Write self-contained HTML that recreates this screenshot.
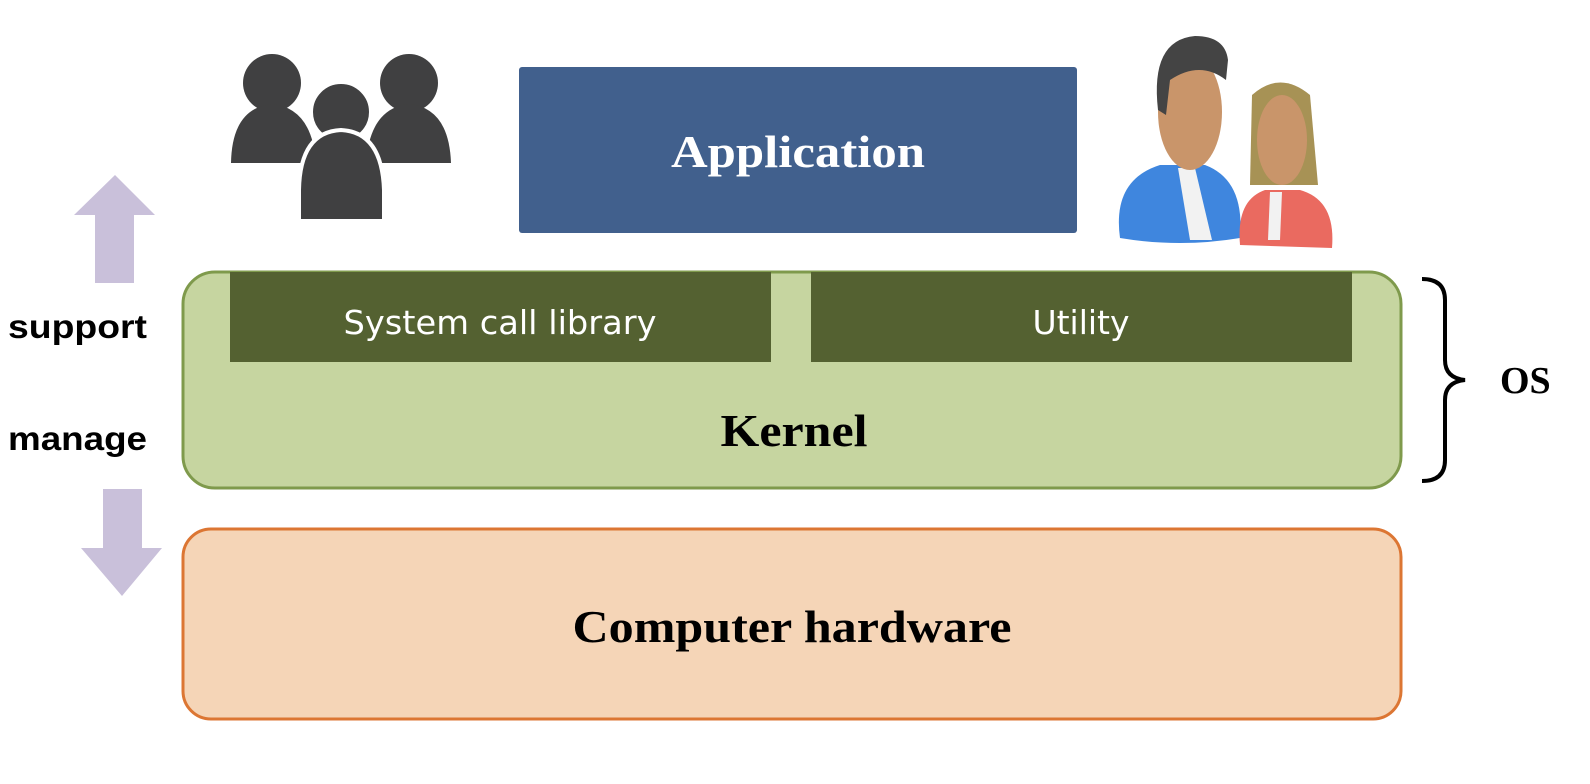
<!DOCTYPE html>
<html><head><meta charset="utf-8"><style>
html,body{margin:0;padding:0;background:#fff;}
svg{display:block;}
</style></head><body>
<svg width="1590" height="784" viewBox="0 0 1590 784" xmlns="http://www.w3.org/2000/svg">
<!-- left users icon -->
<g fill="#404041">
<circle cx="272" cy="83" r="29"/>
<path d="M231 163 Q232 108 272 104 Q312 108 316 163 Z"/>
<circle cx="409" cy="83" r="29"/>
<path d="M366 163 Q370 108 409 104 Q449 108 451 163 Z"/>
<circle cx="341" cy="112" r="30" stroke="#fff" stroke-width="4"/>
<path d="M299 190 Q300 132 341 130 Q382 132 384 190 L384 221 L299 221 Z" stroke="#fff" stroke-width="4"/>
</g>
<!-- application -->
<rect x="519" y="67" width="558" height="166" rx="3" fill="#41608d"/>
<text x="798" y="167" text-anchor="middle" font-family="Liberation Serif, serif" font-weight="bold" font-size="46" textLength="254" lengthAdjust="spacingAndGlyphs" fill="#fff">Application</text>
<!-- right people icon -->
<g>
<path d="M1120 238 Q1112 180 1160 165 L1205 165 Q1245 180 1240 238 Q1180 248 1120 238 Z" fill="#3f86de"/>
<path d="M1178 168 L1195 168 L1212 240 L1190 240 Z" fill="#f2f2f2"/>
<ellipse cx="1190" cy="112" rx="32" ry="58" fill="#c9956a"/>
<path d="M1158 110 Q1150 40 1195 36 Q1225 36 1228 60 L1226 80 Q1200 60 1170 80 L1166 115 Z" fill="#444"/>
<path d="M1240 245 Q1236 200 1265 190 L1300 190 Q1336 200 1332 248 Z" fill="#ea6a60"/>
<path d="M1252 95 Q1280 70 1310 95 L1318 185 L1250 185 Z" fill="#a79255"/>
<ellipse cx="1282" cy="140" rx="25" ry="45" fill="#c9956a"/>
<path d="M1270 192 L1282 192 L1280 240 L1268 240 Z" fill="#f2f2f2"/>
</g>
<!-- arrows -->
<polygon points="115,175 155,215 134,215 134,283 95,283 95,215 74,215" fill="#c9c0da"/>
<polygon points="103,489 142,489 142,548 162,548 122,596 81,548 103,548" fill="#c9c0da"/>
<text x="8" y="338" font-family="Liberation Sans, sans-serif" font-weight="bold" font-size="33" textLength="139" lengthAdjust="spacingAndGlyphs" fill="#000">support</text>
<text x="8" y="450" font-family="Liberation Sans, sans-serif" font-weight="bold" font-size="33" textLength="139" lengthAdjust="spacingAndGlyphs" fill="#000">manage</text>
<!-- kernel box -->
<rect x="183" y="272" width="1218" height="216" rx="32" fill="#c6d5a0" stroke="#7f9a4c" stroke-width="3"/>
<rect x="230" y="272" width="541" height="90" fill="#546131"/>
<rect x="811" y="272" width="541" height="90" fill="#546131"/>
<text x="500" y="334" text-anchor="middle" font-family="DejaVu Sans, sans-serif" font-size="33" textLength="313" lengthAdjust="spacingAndGlyphs" fill="#fff">System call library</text>
<text x="1081" y="334" text-anchor="middle" font-family="DejaVu Sans, sans-serif" font-size="33" fill="#fff">Utility</text>
<text x="794" y="446" text-anchor="middle" font-family="Liberation Serif, serif" font-weight="bold" font-size="46" textLength="147" lengthAdjust="spacingAndGlyphs" fill="#000">Kernel</text>
<!-- hardware -->
<rect x="183" y="529" width="1218" height="190" rx="28" fill="#f5d5b7" stroke="#dc7633" stroke-width="3"/>
<text x="792" y="642" text-anchor="middle" font-family="Liberation Serif, serif" font-weight="bold" font-size="46" textLength="439" lengthAdjust="spacingAndGlyphs" fill="#000">Computer hardware</text>
<!-- brace -->
<path d="M1422 279 Q1445 279 1445 300 L1445 360 Q1445 378 1465 380 Q1445 382 1445 400 L1445 460 Q1445 481 1422 481" fill="none" stroke="#000" stroke-width="4"/>
<text x="1500" y="393" font-family="Liberation Serif, serif" font-weight="bold" font-size="38" fill="#000">OS</text>
</svg>
</body></html>
